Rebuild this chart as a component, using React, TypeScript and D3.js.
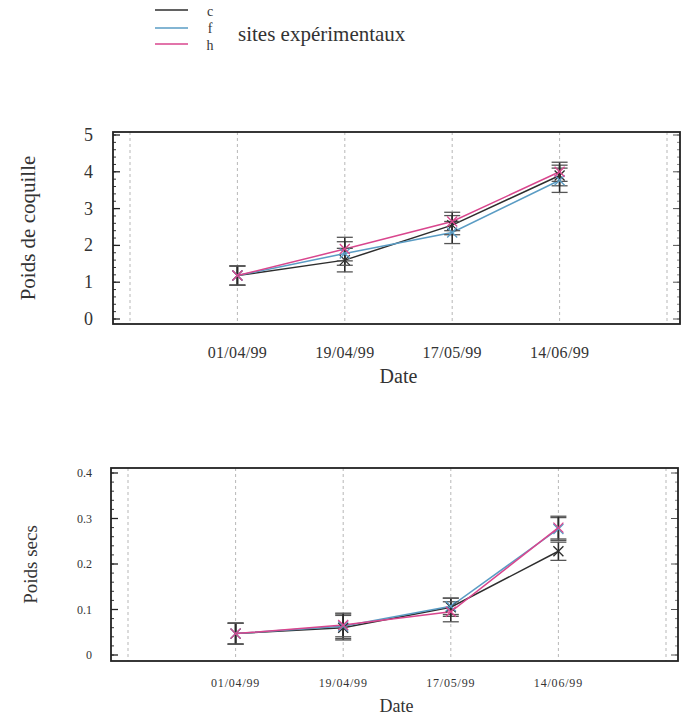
import React, { useEffect } from "react";
import * as d3 from "d3";

const DATES = ["01/04/99", "19/04/99", "17/05/99", "14/06/99"];
const SITES = ["c", "f", "h"];
const SITE_COLORS = ["#2e2e2e", "#5a9cc4", "#d9468e"];

// Poids de coquille
const shellC = [1.18, 1.6, 2.55, 3.9];
const shellF = [1.18, 1.78, 2.35, 3.77];
const shellH = [1.18, 1.9, 2.65, 4.0];
const shellErrC = [0.26, 0.32, 0.26, 0.28];
const shellErrF = [0.26, 0.32, 0.3, 0.33];
const shellErrH = [0.26, 0.32, 0.25, 0.26];
const shellTicks = [0, 1, 2, 3, 4, 5];

// Poids secs
const dryC = [0.047, 0.06, 0.105, 0.228];
const dryF = [0.047, 0.063, 0.107, 0.277];
const dryH = [0.047, 0.066, 0.095, 0.28];
const dryErrC = [0.023, 0.027, 0.02, 0.02];
const dryErrF = [0.023, 0.027, 0.018, 0.025];
const dryErrH = [0.023, 0.026, 0.022, 0.025];
const dryTicks = [0, 0.1, 0.2, 0.3, 0.4];

const FONT = "'Liberation Serif', 'DejaVu Serif', serif";

type PanelProps = {
  values: number[][];
  errors: number[][];
  ticks: number[];
  minorStep: number;
  yMax: number;
  frame: { l: number; r: number; t: number; b: number };
  yRange: [number, number];
  xRange: [number, number];
  yLabel: string;
  yLabelX: number;
  yLabelSize: number;
  tickFont: number;
  tickFmt: (v: number) => string;
  tickLabelX: number;
  xTickY: number;
  xTickFont: number;
  xTickSpacing: number;
  dateY: number;
  dateFont: number;
};

function Panel(p: PanelProps) {
  const { frame } = p;
  const x = d3.scaleLinear().domain([-1, 4]).range(p.xRange);
  const y = d3.scaleLinear().domain([0, p.yMax]).range(p.yRange);
  const line = d3
    .line<number>()
    .x((_, i) => x(i))
    .y((v) => y(v));
  const minor = d3.range(0, p.yMax + 1e-9, p.minorStep);
  const gridIdx = [-1, 0, 1, 2, 3, 4];
  const ms = 5;
  return (
    <g>
      {gridIdx.map((i) => (
        <line
          key={"g" + i}
          x1={x(i)}
          x2={x(i)}
          y1={frame.t}
          y2={frame.b}
          stroke="#a5a5a5"
          strokeWidth={0.8}
          strokeDasharray="3,3"
        />
      ))}
      {minor.map((v, i) => (
        <g key={"m" + i}>
          <line x1={frame.l} x2={frame.l + 3} y1={y(v)} y2={y(v)} stroke="#333" strokeWidth={1} />
          <line x1={frame.r} x2={frame.r - 3} y1={y(v)} y2={y(v)} stroke="#666" strokeWidth={0.8} />
        </g>
      ))}
      {p.ticks.map((v) => (
        <g key={"t" + v}>
          <line x1={frame.l} x2={frame.l + 7} y1={y(v)} y2={y(v)} stroke="#222" strokeWidth={1.3} />
          <line x1={frame.r} x2={frame.r - 7} y1={y(v)} y2={y(v)} stroke="#555" strokeWidth={1} />
          <text
            x={p.tickLabelX}
            y={y(v)}
            textAnchor="end"
            dominantBaseline="central"
            fontSize={p.tickFont}
            fontFamily={FONT}
            fill="#333"
          >
            {p.tickFmt(v)}
          </text>
        </g>
      ))}
      {p.values.map((vals, s) => (
        <path key={"l" + s} d={line(vals) || ""} fill="none" stroke={SITE_COLORS[s]} strokeWidth={1.5} />
      ))}
      {p.values.map((vals, s) =>
        vals.map((v, i) => {
          const e = p.errors[s][i];
          const cx = x(i);
          return (
            <g key={"e" + s + "-" + i}>
              <line x1={cx} x2={cx} y1={y(v + e)} y2={y(v - e)} stroke="#2a2a2a" strokeWidth={1.6} />
              <line x1={cx - 8} x2={cx + 8} y1={y(v + e)} y2={y(v + e)} stroke="#555" strokeWidth={1.3} />
              <line x1={cx - 8} x2={cx + 8} y1={y(v - e)} y2={y(v - e)} stroke="#555" strokeWidth={1.3} />
            </g>
          );
        })
      )}
      {p.values.map((vals, s) =>
        vals.map((v, i) => {
          const cx = x(i);
          const cy = y(v);
          return (
            <path
              key={"x" + s + "-" + i}
              d={`M${cx - ms},${cy - ms}L${cx + ms},${cy + ms}M${cx - ms},${cy + ms}L${cx + ms},${cy - ms}`}
              stroke={SITE_COLORS[s]}
              strokeWidth={1.3}
              fill="none"
            />
          );
        })
      )}
      <rect
        x={frame.l}
        y={frame.t}
        width={frame.r - frame.l}
        height={frame.b - frame.t}
        fill="none"
        stroke="#222"
        strokeWidth={1.8}
      />
      {DATES.map((d, i) => (
        <text
          key={"d" + d}
          x={x(i)}
          y={p.xTickY}
          textAnchor="middle"
          dominantBaseline="central"
          fontSize={p.xTickFont}
          letterSpacing={p.xTickSpacing}
          fontFamily={FONT}
          fill="#333"
        >
          {d}
        </text>
      ))}
      <text
        x={(frame.l + frame.r) / 2 + 2}
        y={p.dateY}
        textAnchor="middle"
        dominantBaseline="central"
        fontSize={p.dateFont}
        fontFamily={FONT}
        fill="#333"
      >
        Date
      </text>
      <text
        transform={`translate(${p.yLabelX},${(frame.t + frame.b) / 2}) rotate(-90)`}
        textAnchor="middle"
        dominantBaseline="central"
        fontSize={p.yLabelSize}
        fontFamily={FONT}
        fill="#333"
      >
        {p.yLabel}
      </text>
    </g>
  );
}

export default function App() {
  useEffect(() => {
    document.body.style.margin = "0";
  }, []);
  const legendY = [10, 28, 44];
  return (
    <svg width={691} height={716} style={{ display: "block", background: "#fff" }}>
      <g>
        {SITES.map((s, i) => (
          <line
            key={s}
            x1={155}
            x2={188}
            y1={legendY[i]}
            y2={legendY[i]}
            stroke={SITE_COLORS[i]}
            strokeWidth={1.5}
          />
        ))}
        {SITES.map((s, i) => (
          <text
            key={"t" + s}
            x={210}
            y={[11, 28, 45][i]}
            textAnchor="middle"
            dominantBaseline="central"
            fontSize={14}
            fontFamily={FONT}
            fill="#333"
          >
            {s}
          </text>
        ))}
        <text x={238} y={34} dominantBaseline="central" fontSize={21} fontFamily={FONT} fill="#333">
          sites expérimentaux
        </text>
      </g>
      <Panel
        values={[shellC, shellF, shellH]}
        errors={[shellErrC, shellErrF, shellErrH]}
        ticks={shellTicks}
        minorStep={0.2}
        yMax={5}
        frame={{ l: 113, r: 680, t: 132, b: 324 }}
        yRange={[319, 135]}
        xRange={[130, 667]}
        yLabel="Poids de coquille"
        yLabelX={28}
        yLabelSize={21}
        tickFont={18}
        tickFmt={(v) => String(v)}
        tickLabelX={93}
        xTickY={352}
        xTickFont={16}
        xTickSpacing={0.3}
        dateY={376}
        dateFont={20}
      />
      <Panel
        values={[dryC, dryF, dryH]}
        errors={[dryErrC, dryErrF, dryErrH]}
        ticks={dryTicks}
        minorStep={0.02}
        yMax={0.4}
        frame={{ l: 111, r: 678, t: 468, b: 661 }}
        yRange={[655, 473]}
        xRange={[128, 666]}
        yLabel="Poids secs"
        yLabelX={30}
        yLabelSize={19}
        tickFont={12}
        tickFmt={(v) => (v === 0 ? "0" : d3.format(".1f")(v))}
        tickLabelX={92}
        xTickY={683}
        xTickFont={12}
        xTickSpacing={0.8}
        dateY={706}
        dateFont={18}
      />
    </svg>
  );
}
